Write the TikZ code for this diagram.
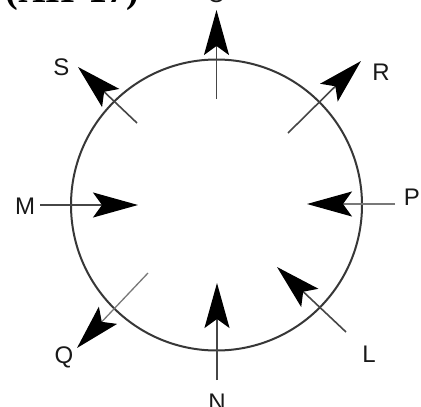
\documentclass[tikz,border=0pt]{standalone}
\usepackage{fontspec}
\setmainfont{Liberation Sans}
\newfontfamily\serifhead{Liberation Serif}
\usetikzlibrary{arrows.meta}
\definecolor{ringgray}{RGB}{55,55,55}
\definecolor{stemgray}{RGB}{70,70,70}
\definecolor{lightstem}{RGB}{120,120,120}
\tikzset{
  lbl/.style={font=\fontsize{24}{24}\selectfont, inner sep=0pt, text=black!90},
  vec/.style={draw=stemgray, line width=1.6pt, -{Stealth[length=45pt, width=25pt, inset=9pt, color=black]}},
  lightvec/.style={vec, draw=lightstem, line width=1.3pt},
  ring/.style={draw=ringgray, line width=2pt}
}
\begin{document}
\begin{tikzpicture}[x=1pt, y=-1pt]
\useasboundingbox (0,0) rectangle (421,407);
\fill[white] (0,0) rectangle (421,407);
% partial heading at top
\node[anchor=base east, inner sep=0pt, font=\serifhead\bfseries\fontsize{38}{38}\selectfont] (head) at (139,2) {(XII-17)};
% circle
\node[ring, circle, minimum size=291pt, inner sep=0pt] (ring) at (216.5,205) {};
% coordinates
\coordinate (oT) at (216.5,99);  \coordinate (oH) at (216.5,10);
\coordinate (sT) at (137,123);   \coordinate (sH) at (78,67);
\coordinate (rT) at (288,133);   \coordinate (rH) at (361,61);
\coordinate (mT) at (40,205);    \coordinate (mH) at (138,205);
\coordinate (pT) at (395,204);   \coordinate (pH) at (307,204);
\coordinate (qT) at (148,273);   \coordinate (qH) at (77,348);
\coordinate (nT) at (217,380);   \coordinate (nH) at (217,283);
\coordinate (lT) at (346,332);   \coordinate (lH) at (277,267);
% arrows
\draw[vec] (oT) -- (oH);
\draw[vec] (sT) -- (sH);
\draw[vec] (rT) -- (rH);
\draw[vec] (mT) -- (mH);
\draw[lightvec] (pT) -- (pH);
\draw[lightvec] (qT) -- (qH);
\draw[vec] (nT) -- (nH);
\draw[vec] (lT) -- (lH);
% labels
\node[lbl] (O) at (216.5,-5.5) {O};
\node[lbl] (S) at (61.5,67) {S};
\node[lbl] (R) at (381,72) {R};
\node[lbl] (M) at (25,206) {M};
\node[lbl] (P) at (412,197) {P};
\node[lbl] (Q) at (64,357) {Q};
\node[lbl] (L) at (369,354) {L};
\node[lbl] (N) at (217,402) {N};
\end{tikzpicture}
\end{document}
